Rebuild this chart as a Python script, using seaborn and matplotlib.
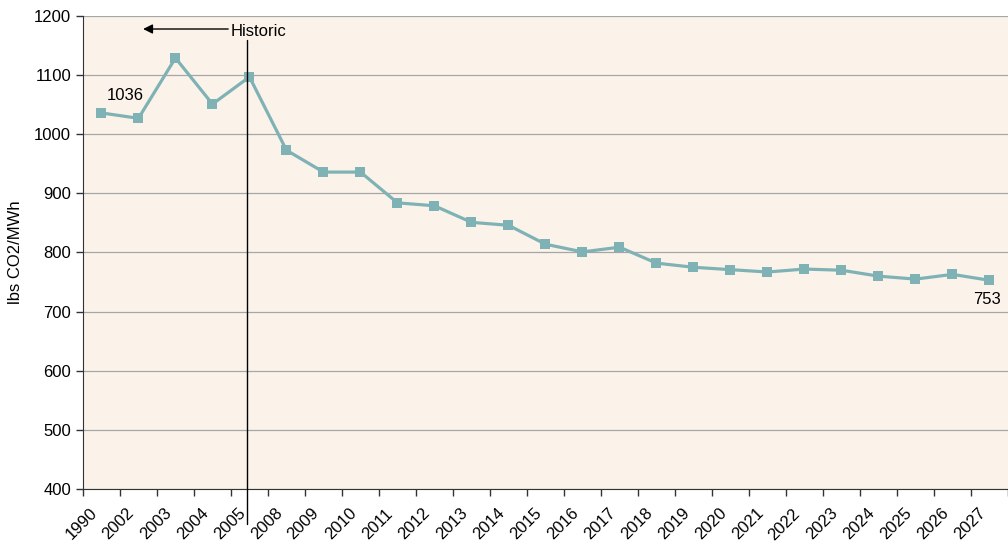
import numpy as np
import pandas as pd
import matplotlib.pyplot as plt
import matplotlib.transforms as mtransforms
import seaborn as sns

years = ["1990", "2002", "2003", "2004", "2005", "2008", "2009", "2010", "2011",
         "2012", "2013", "2014", "2015", "2016", "2017", "2018", "2019", "2020",
         "2021", "2022", "2023", "2024", "2025", "2026", "2027"]
lbs_per_mwh = [1036, 1027, 1129, 1051, 1097, 973, 936, 936, 884, 879, 851, 846,
               814, 801, 809, 782, 775, 771, 767, 772, 770, 760, 755, 763, 753]

df = pd.DataFrame({"pos": np.arange(len(years)), "value": lbs_per_mwh})

sns.set_style("white", {"xtick.bottom": True, "ytick.left": True,
                        "text.color": "black", "xtick.color": "black",
                        "ytick.color": "black", "axes.labelcolor": "black"})
plt.rcParams["font.family"] = ["Liberation Sans", "DejaVu Sans"]

fig = plt.figure(figsize=(10.08, 5.46), dpi=100)
ax = fig.add_axes([0.0823, 0.1044, 0.9177, 0.8663])
ax.set_facecolor("#FBF3EA")

sns.lineplot(data=df, x="pos", y="value", ax=ax, color="#7FB2B5", linewidth=2.3,
             marker="s", markersize=7.5, markeredgewidth=0, zorder=3)

ax.set_ylim(400, 1200)
ax.set_yticks(range(400, 1201, 100))
ax.set_xlim(-0.5, 24.3)
ax.grid(axis="y", color="#A6A6A6", linewidth=0.9)
ax.set_axisbelow(True)

# category labels at centres, tick marks at boundaries
ax.set_xticks(df["pos"])
ax.set_xticklabels(years, rotation=45, ha="right", rotation_mode="anchor", fontsize=12)
ax.tick_params(axis="x", which="major", length=0, pad=12)
ax.set_xticks(np.arange(-0.5, len(years), 1), minor=True)
ax.tick_params(axis="x", which="minor", bottom=True, length=5, color="#333333", width=1, direction="out")
ax.tick_params(axis="y", length=5, color="#333333", width=1, direction="out", labelsize=12, left=True)
shift = mtransforms.ScaledTranslation(-0.12, 0, fig.dpi_scale_trans)
for lab in ax.get_xticklabels():
    lab.set_transform(lab.get_transform() + shift)

for side in ["top", "right"]:
    ax.spines[side].set_visible(False)
ax.spines["left"].set_color("#333333")
ax.spines["bottom"].set_color("#333333")

ax.set_xlabel("")
ax.set_ylabel("lbs CO2/MWh", fontsize=12, labelpad=8)

# historic divider and arrow
ax.plot([3.92, 3.92], [1159, 340], color="black", linewidth=1, clip_on=False, zorder=4)
ax.annotate("", xy=(1.05, 1178), xytext=(3.5, 1178),
            arrowprops=dict(arrowstyle="-|>", color="black", lw=1, mutation_scale=14))
ax.text(3.5, 1174, "Historic", fontsize=12, va="center", ha="left")

ax.text(0.15, 1066, "1036", fontsize=12, ha="left", va="center")
ax.text(24.3, 720, "753", fontsize=12, ha="right", va="center")

plt.savefig("out.png", dpi=100)
